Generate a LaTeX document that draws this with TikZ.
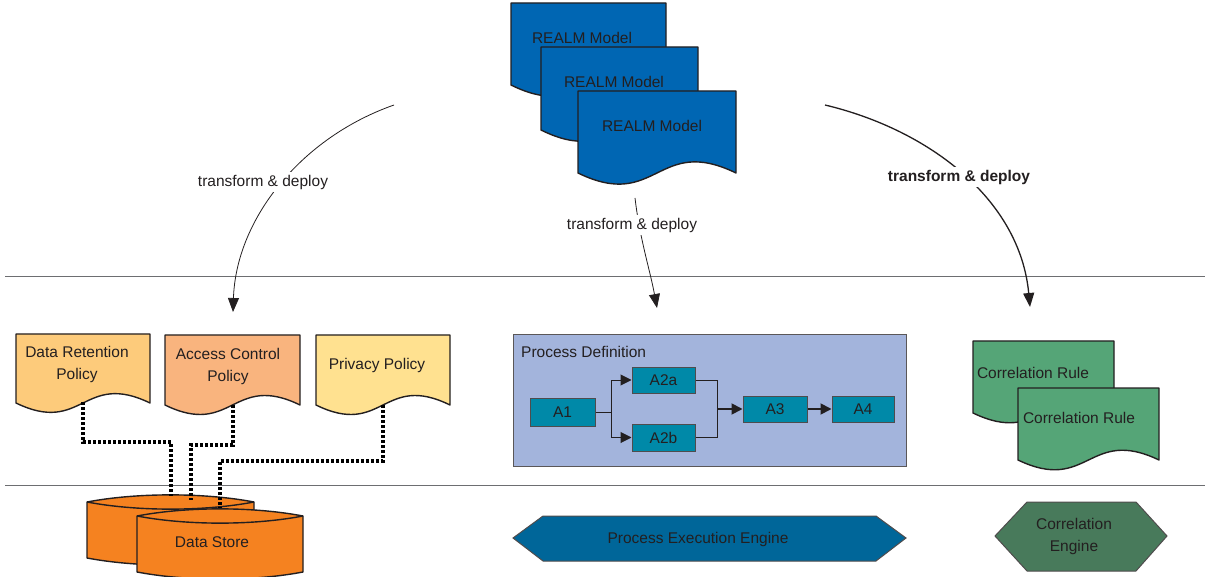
\documentclass[tikz,border=0pt]{standalone}
\usepackage{fontspec}
\setmainfont{Liberation Sans}
\usetikzlibrary{arrows.meta}
\definecolor{txt}{HTML}{231F20}
\definecolor{realm}{HTML}{0066B3}
\definecolor{drcol}{HTML}{FDCB7B}
\definecolor{accol}{HTML}{F9B47E}
\definecolor{ppcol}{HTML}{FFE190}
\definecolor{crcol}{HTML}{55A577}
\definecolor{cecol}{HTML}{487A5B}
\definecolor{pdcol}{HTML}{A3B4DC}
\definecolor{actcol}{HTML}{0089A8}
\definecolor{pecol}{HTML}{006699}
\definecolor{dscol}{HTML}{F58220}
\definecolor{sep}{HTML}{6D6E71}
\newcommand\docpath[5]{%
  \pgfmathsetmacro\dk{0.47*(#4-#2)}%
  \pgfmathsetmacro\dm{(#1+#3)/2}%
  \draw[docline,fill=#5] (#1,#2) -- (#3,#2) -- (#3,#4)
    .. controls (\dm,#4-\dk) and (\dm,#4+\dk) .. (#1,#4) -- cycle;}
\newcommand\cylpath[4]{% x1,x2,ytop,ybottom
  \pgfmathsetmacro\ca{#1+0.3*(#2-#1)}%
  \pgfmathsetmacro\cb{#2-0.3*(#2-#1)}%
  \draw[docline,fill=dscol] (#1,#3) .. controls (\ca,#3-9.5) and (\cb,#3-9.5) .. (#2,#3)
    -- (#2,#4) .. controls (\cb,#4+9.5) and (\ca,#4+9.5) .. (#1,#4) -- cycle;
  \draw[docline] (#1,#3) .. controls (\ca,#3+9.5) and (\cb,#3+9.5) .. (#2,#3);}
\begin{document}
\begin{tikzpicture}[x=1pt,y=-1pt,
  every node/.style={text=txt,font=\fontsize{15.5}{22}\selectfont},
  docline/.style={draw=txt,line width=1.4pt,line join=round},
  lbl/.style={align=center,inner sep=0pt},
  sepline/.style={draw=sep,line width=1pt},
  xform/.style={draw=txt,line width=0.8pt,-{Triangle[length=14pt,width=11pt]}},
  xformb/.style={draw=txt,line width=1.3pt,-{Triangle[length=14pt,width=11pt]}},
  tlabel/.style={fill=white,inner sep=3pt},
  act/.style={draw=txt!80,line width=1pt,fill=actcol,inner sep=0pt},
  flow/.style={draw=txt,line width=1pt,-{Triangle[length=11pt,width=11pt]}},
  flowb/.style={draw=txt,line width=1.8pt,-{Triangle[length=11pt,width=11pt]}},
  link/.style={draw=txt,line width=1pt},
  dots/.style={draw=black,line width=3.2pt,dash pattern=on 3pt off 2pt},
  engine/.style={draw=txt!80,line width=1pt}
]
\useasboundingbox (0,0) rectangle (1205,577);

% separators
\coordinate (s1a) at (5,277); \coordinate (s1b) at (1205,277);
\coordinate (s2a) at (5,485); \coordinate (s2b) at (1205,485);
\draw[sepline] (s1a) -- (s1b);
\draw[sepline] (s2a) -- (s2b);

% REALM models
\docpath{511}{3}{666}{85}{realm}
\node[lbl] (r1) at (582,38) {REALM Model};
\docpath{541}{47}{698}{130}{realm}
\node[lbl] (r2) at (614,82) {REALM Model};
\docpath{578}{91}{736}{173}{realm}
\node[lbl] (r3) at (652,126) {REALM Model};

% transform arrows
\coordinate (lstart) at (394,105); \coordinate (lend) at (233,312);
\coordinate (mstart) at (635,198); \coordinate (mend) at (657,308);
\coordinate (rstart) at (825,105); \coordinate (rend) at (1030,307);
\draw[xform] (lstart) .. controls (300,138) and (236,220) .. (lend);
\node[tlabel] (tl) at (263,182) {transform \& deploy};
\draw[xform] (mstart) .. controls (640,240) and (650,270) .. (mend);
\node[tlabel] (tm) at (632,225) {transform \& deploy};
\draw[xformb] (rstart) .. controls (930,130) and (1020,200) .. (rend);
\node[tlabel,font=\fontsize{15.5}{22}\selectfont\bfseries] (tr) at (959,177) {transform \& deploy};

% policies
\docpath{16}{334}{150}{403}{drcol}
\node[lbl] (dr) at (77,364) {Data Retention\\Policy};
\docpath{165}{335}{300}{405}{accol}
\node[lbl] (ac) at (228,366) {Access Control\\Policy};
\docpath{316}{335}{450}{405}{ppcol}
\node[lbl] (pp) at (377,365) {Privacy Policy};

% data store
\cylpath{87}{254}{502}{558}
\cylpath{137}{303}{516}{572}
\node[lbl] (ds) at (212,542) {Data Store};

% dotted links
\coordinate (drb) at (83,402); \coordinate (dre) at (171,496);
\coordinate (acb) at (233,405); \coordinate (ace) at (191,500);
\coordinate (ppb) at (383,405); \coordinate (ppe) at (220,508);
\draw[dots] (drb) -- (83,442) -- (171,442) -- (dre);
\draw[dots] (acb) -- (233,445) -- (191,445) -- (ace);
\draw[dots] (ppb) -- (383,461) -- (220,461) -- (ppe);

% process definition
\node[draw=txt!75,line width=1pt,fill=pdcol,minimum width=393pt,minimum height=131pt,inner sep=0pt] (pd) at (709.5,400.5) {};
\node[lbl,anchor=west] (pdl) at (521,352) {Process Definition};
\node[act,minimum width=65pt,minimum height=28pt] (a1) at (562.5,412) {A1};
\node[act,minimum width=63pt,minimum height=26pt] (a2a) at (663.5,380) {A2a};
\node[act,minimum width=63pt,minimum height=27pt] (a2b) at (663.5,437.5) {A2b};
\node[act,minimum width=64pt,minimum height=26pt] (a3) at (775,409) {A3};
\node[act,minimum width=62pt,minimum height=26pt] (a4) at (863,409) {A4};
\draw[flow] (a1.east) -- ++(16,0) |- (a2a.west);
\draw[flow] (a1.east) -- ++(16,0) |- (a2b.west);
\draw[link] (a2a.east) -- ++(22,0) coordinate (mg) -- (mg |- a2b.east) -- (a2b.east);
\draw[flowb] (mg |- a3.west) -- (a3.west);
\draw[flowb] (a3.east) -- (a4.west);

% correlation rules
\docpath{973}{341}{1114}{413}{crcol}
\node[lbl] (c1) at (1033,373) {Correlation Rule};
\docpath{1018}{388}{1159}{460}{crcol}
\node[lbl] (c2) at (1079,418) {Correlation Rule};

% engines
\draw[engine,fill=pecol] (513,538) -- (543,516) -- (876,516) -- (906,538) -- (876,561) -- (543,561) -- cycle;
\node[lbl] (pe) at (698,539) {Process Execution Engine};
\draw[engine,fill=cecol] (995,536) -- (1027,502) -- (1136,502) -- (1167,536) -- (1136,571) -- (1027,571) -- cycle;
\node[lbl] (ce) at (1074,536) {Correlation\\Engine};
\end{tikzpicture}
\end{document}
